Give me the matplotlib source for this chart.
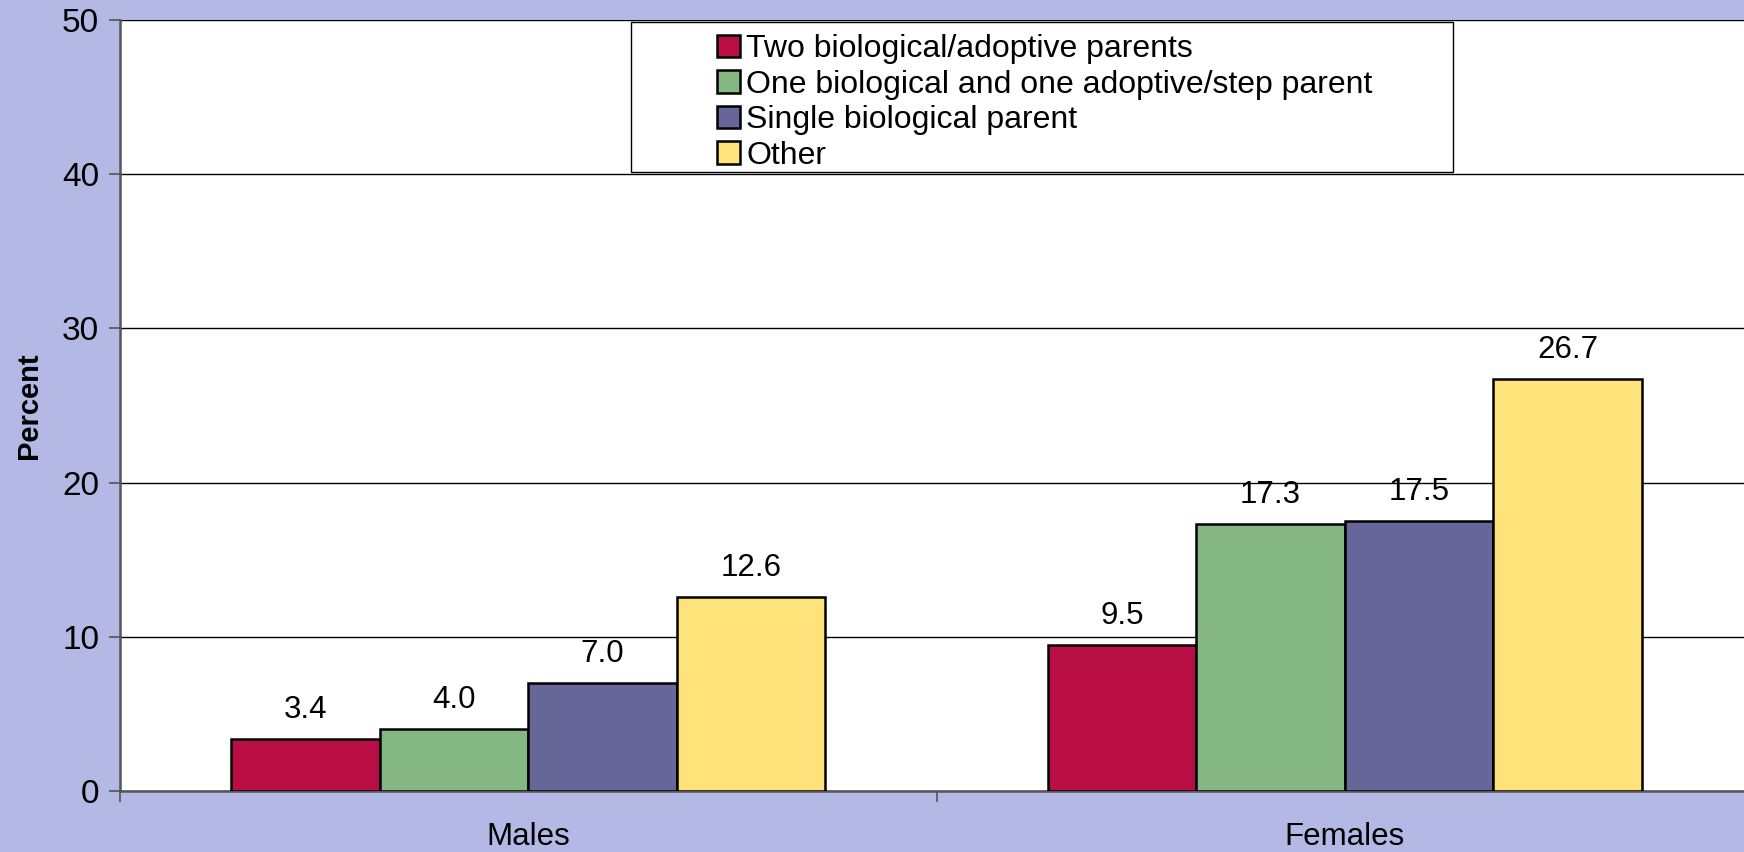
import matplotlib.pyplot as plt
from matplotlib.patches import Rectangle
import numpy as np

plt.rcParams['font.family'] = ['Liberation Sans', 'DejaVu Sans']

groups = ["Males", "Females"]
series = ["Two biological/adoptive parents",
          "One biological and one adoptive/step parent",
          "Single biological parent",
          "Other"]
values = [
    [3.4, 9.5],
    [4.0, 17.3],
    [7.0, 17.5],
    [12.6, 26.7],
]
colors = ["#B90E45", "#85B783", "#666699", "#FFE37A"]
bg = "#B3B9E4"

fig = plt.figure(figsize=(17.44, 8.52), dpi=100, facecolor=bg)
ax = fig.add_axes([120/1744, 61/852, 1633/1744, 771/852])
ax.set_facecolor("white")

x = np.arange(len(groups))
w = 0.182
for i, (name, vals) in enumerate(zip(series, values)):
    pos = x + (i - 1.5) * w
    bars = ax.bar(pos, vals, w, color=colors[i], edgecolor="black",
                  linewidth=1.8, label=name, zorder=3)
    for b, v in zip(bars, vals):
        ax.annotate(f"{v:.1f}", (b.get_x() + b.get_width() / 2, v),
                    xytext=(0, 10), textcoords="offset points",
                    ha="center", va="bottom", fontsize=22.5)

ax.set_xlim(-0.5, 1.5)
ax.set_ylim(0, 50)
ax.set_yticks(range(0, 51, 10))
ax.yaxis.grid(True, color="black", linewidth=1.0, zorder=0)
ax.set_axisbelow(True)
ax.set_xticks([-0.5, 0.5, 1.5])
ax.set_xticklabels([])
ax.set_xticks(x, minor=True)
ax.set_xticklabels(groups, minor=True, fontsize=22.5)
ax.tick_params(axis="x", which="minor", length=0, pad=22)
ax.tick_params(axis="x", which="major", length=8, width=1.2, color="#555555")
ax.tick_params(axis="y", length=8, width=1.2, color="#555555", labelsize=24, pad=7)

for s in ["top", "right"]:
    ax.spines[s].set_visible(False)
for s in ["left", "bottom"]:
    ax.spines[s].set_color("#555555")
    ax.spines[s].set_linewidth(1.8)

ax.set_ylabel("Percent", fontsize=21, fontweight="bold", labelpad=14)

# legend box like the original
fig.patches.append(Rectangle((631/1744, 1 - 172/852), 822/1744, 150/852,
                             transform=fig.transFigure, facecolor="white",
                             edgecolor="black", linewidth=1.0, zorder=5))
leg = fig.legend(loc="upper left", bbox_to_anchor=(695/1744, 1 - 12/852),
                 frameon=False, fontsize=23, handlelength=0.7, handleheight=0.7,
                 handletextpad=0.2, labelspacing=0.17, borderpad=0.2)
leg.set_zorder(6)

fig.savefig("out.png", dpi=100, facecolor=bg)
